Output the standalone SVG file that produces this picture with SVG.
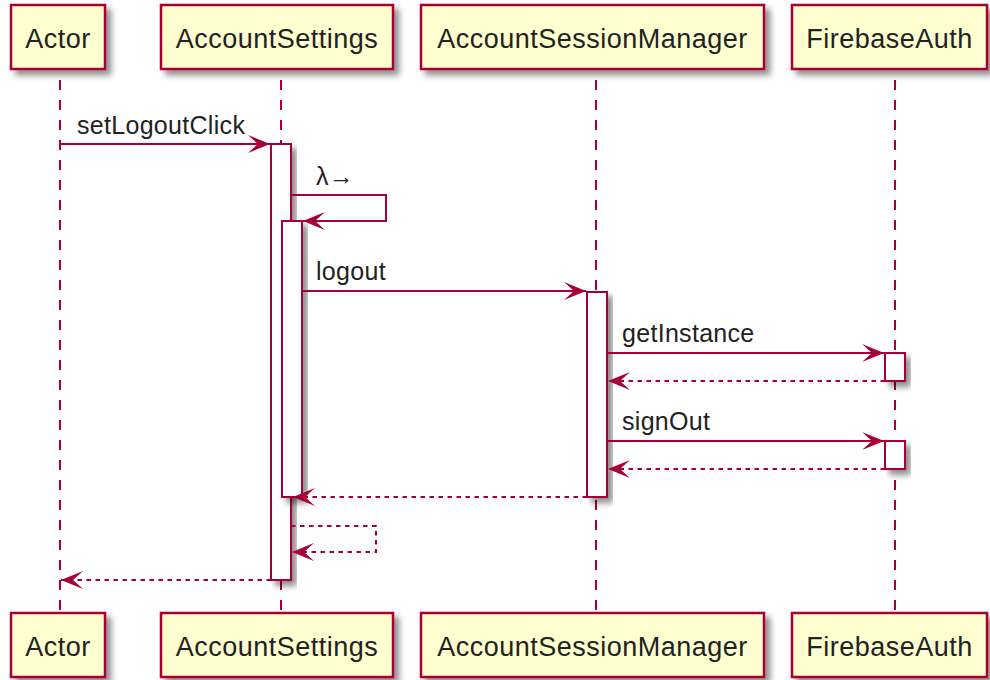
<svg xmlns="http://www.w3.org/2000/svg" width="990" height="680" viewBox="0 0 990 680">
<defs>
<filter id="sh" x="-20%" y="-20%" width="150%" height="160%">
<feGaussianBlur in="SourceAlpha" stdDeviation="3" result="b"/>
<feOffset in="b" dx="5" dy="5" result="o"/>
<feComponentTransfer in="o" result="s"><feFuncA type="linear" slope="0.45"/></feComponentTransfer>
<feMerge><feMergeNode in="s"/><feMergeNode in="SourceGraphic"/></feMerge>
</filter>
<marker id="ah" viewBox="0 0 22 18" refX="22" refY="9" markerWidth="22" markerHeight="18" markerUnits="userSpaceOnUse" orient="auto">
<polygon points="0,0 22,9 0,18 10,9" fill="#A80036"/>
</marker>
</defs>
<style>
.box{fill:#FEFECE;stroke:#A80036;stroke-width:2.5;filter:url(#sh)}
.act{fill:#FFFFFF;stroke:#A80036;stroke-width:2;filter:url(#sh)}
.life{stroke:#A80036;stroke-width:2;stroke-dasharray:10,10;fill:none}
.pt{font-family:"Liberation Sans",Arial,sans-serif;font-size:27px;letter-spacing:0.5px;fill:#222222;text-anchor:middle}
.mt{font-family:"Liberation Sans",Arial,sans-serif;font-size:25px;letter-spacing:0.3px;fill:#222222}
.msg{stroke:#A80036;stroke-width:2;fill:none;marker-end:url(#ah)}
.ret{stroke:#A80036;stroke-width:2;fill:none;stroke-dasharray:4.5,4.5;marker-end:url(#ah)}
</style>
<rect width="990" height="680" fill="#FFFFFF"/>
<g id="lifelines">
<line class="life" x1="60" y1="80" x2="60" y2="613"/>
<line class="life" x1="281" y1="80" x2="281" y2="613"/>
<line class="life" x1="596" y1="80" x2="596" y2="613"/>
<line class="life" x1="895" y1="80" x2="895" y2="613"/>
</g>
<g id="Actor">
<rect class="box" x="11" y="5" width="94" height="64"/>
<text class="pt" x="58" y="48">Actor</text>
<rect class="box" x="11" y="613" width="94" height="64"/>
<text class="pt" x="58" y="656">Actor</text>
</g>
<g id="AccountSettings">
<rect class="box" x="161" y="5" width="232" height="64"/>
<text class="pt" x="277" y="48">AccountSettings</text>
<rect class="box" x="161" y="613" width="232" height="64"/>
<text class="pt" x="277" y="656">AccountSettings</text>
</g>
<g id="AccountSessionManager">
<rect class="box" x="421" y="5" width="343" height="64"/>
<text class="pt" x="592.5" y="48">AccountSessionManager</text>
<rect class="box" x="421" y="613" width="343" height="64"/>
<text class="pt" x="592.5" y="656">AccountSessionManager</text>
</g>
<g id="FirebaseAuth">
<rect class="box" x="792" y="5" width="195" height="64"/>
<text class="pt" x="889.5" y="48">FirebaseAuth</text>
<rect class="box" x="792" y="613" width="195" height="64"/>
<text class="pt" x="889.5" y="656">FirebaseAuth</text>
</g>
<g id="activations">
<rect class="act" x="271" y="144" width="20" height="436"/>
<rect class="act" x="282" y="221" width="20" height="276"/>
<rect class="act" x="587" y="292" width="20" height="205"/>
<rect class="act" x="885" y="353" width="20" height="28"/>
<rect class="act" x="885" y="441" width="20" height="28"/>
</g>
<g id="connectors">
<line class="msg" x1="60" y1="144" x2="270" y2="144"/>
<polyline class="msg" points="291,195 386,195 386,221 303,221"/>
<line class="msg" x1="302" y1="291" x2="586" y2="291"/>
<line class="msg" x1="607" y1="353" x2="884" y2="353"/>
<line class="ret" x1="885" y1="381" x2="608" y2="381"/>
<line class="msg" x1="607" y1="441" x2="884" y2="441"/>
<line class="ret" x1="885" y1="469" x2="608" y2="469"/>
<line class="ret" x1="587" y1="497" x2="293" y2="497"/>
<polyline class="ret" points="291,526 376,526 376,552 292,552"/>
<line class="ret" x1="271" y1="580" x2="61" y2="580"/>
</g>
<g id="labels">
<text class="mt" x="77" y="134">setLogoutClick</text>
<text class="mt" x="316" y="185">λ→</text>
<text class="mt" x="316" y="280">logout</text>
<text class="mt" x="622" y="342">getInstance</text>
<text class="mt" x="622" y="430">signOut</text>
</g>
</svg>
